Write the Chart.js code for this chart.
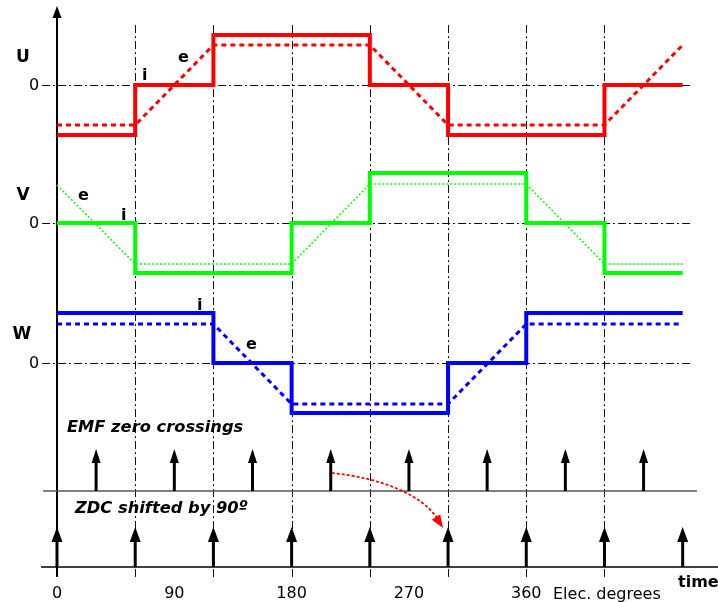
<!DOCTYPE html>
<html>
<head>
<meta charset="utf-8">
<script src="https://cdn.jsdelivr.net/npm/chart.js@4"></script>
<style>
  html, body { margin: 0; padding: 0; background: #fff; }
  #wrap { position: relative; width: 718px; height: 602px; }
</style>
</head>
<body>
<div id="wrap"><canvas id="c"></canvas></div>
<script>
// phase currents: level holds from its angle up to the next angle
const uAngles = [0, 60, 120, 240, 300, 420, 480];
const uCurrent = [-1, 0, 1, 0, -1, 0, 0];
const vAngles = [0, 60, 180, 240, 360, 420, 480];
const vCurrent = [0, -1, 0, 1, 0, -1, -1];
const wAngles = [0, 120, 180, 300, 360, 480];
const wCurrent = [1, 0, -1, 0, 1, 1];

// back EMF, trapezoid corners
const uEmfAngles = [0, 60, 120, 240, 300, 420, 480];
const uEmf = [-0.8, -0.8, 0.8, 0.8, -0.8, -0.8, 0.8];
const vEmfAngles = [0, 60, 180, 240, 360, 420, 480];
const vEmf = [0.76, -0.82, -0.82, 0.78, 0.78, -0.82, -0.82];
const wEmfAngles = [0, 120, 180, 300, 360, 480];
const wEmf = [0.78, 0.78, -0.82, -0.82, 0.78, 0.78];

// zero crossing markers (elec. degrees)
const emfZeroCrossings = [30, 90, 150, 210, 270, 330, 390, 450];
const zdcShifted = [0, 60, 120, 180, 240, 300, 360, 420, 480];
const shiftFrom = 210;
const shiftTo = 300;

const xTicks = [0, 90, 180, 270, 360];
const gridAngles = [60, 120, 180, 240, 300, 360, 420];

// vertical lanes (y units, 1 = current amplitude)
const laneU = -1.7, laneV = -4.46, laneW = -7.26;
const emfBase = -9.82, zdcBase = -11.34;

const RED = "#ff0000", GREEN = "#00ff00", BLUE = "#0000ff";
const FONT = "'DejaVu Sans', Verdana, sans-serif";

function pts(angles, vals, lane) {
  return angles.map((a, i) => ({ x: a, y: lane + vals[i] }));
}

function arrow(ctx, x, yBase, yTip, hw, hh, lw) {
  ctx.save();
  ctx.strokeStyle = "#000";
  ctx.fillStyle = "#000";
  ctx.lineWidth = lw;
  ctx.beginPath();
  ctx.moveTo(x, yBase);
  ctx.lineTo(x, yTip + hh - 1);
  ctx.stroke();
  ctx.beginPath();
  ctx.moveTo(x, yTip);
  ctx.lineTo(x - hw / 2, yTip + hh);
  ctx.lineTo(x + hw / 2, yTip + hh);
  ctx.closePath();
  ctx.fill();
  ctx.restore();
}

const decor = {
  id: "decor",
  beforeDatasetsDraw(chart) {
    const ctx = chart.ctx;
    const xs = chart.scales.x, ys = chart.scales.y;
    ctx.save();
    ctx.strokeStyle = "#111";
    ctx.lineWidth = 1;
    ctx.setLineDash([8, 3, 2, 3]);
    gridAngles.forEach(a => {
      const x = Math.round(xs.getPixelForValue(a)) + 0.5;
      ctx.beginPath();
      ctx.moveTo(x, 25);
      ctx.lineTo(x, 577);
      ctx.stroke();
    });
    [laneU, laneV, laneW].forEach(l => {
      const y = Math.round(ys.getPixelForValue(l)) + 0.5;
      ctx.beginPath();
      ctx.moveTo(42, y);
      ctx.lineTo(693, y);
      ctx.stroke();
    });
    ctx.setLineDash([]);

    // y axis with arrow
    const x0 = xs.getPixelForValue(0);
    ctx.strokeStyle = "#000";
    ctx.fillStyle = "#000";
    ctx.lineWidth = 2;
    ctx.beginPath();
    ctx.moveTo(x0, 16);
    ctx.lineTo(x0, 577);
    ctx.stroke();
    ctx.beginPath();
    ctx.moveTo(x0, 6);
    ctx.lineTo(x0 - 4.5, 18);
    ctx.lineTo(x0 + 4.5, 18);
    ctx.closePath();
    ctx.fill();

    // EMF baseline
    const yE = ys.getPixelForValue(emfBase);
    ctx.strokeStyle = "#555";
    ctx.lineWidth = 1.5;
    ctx.beginPath();
    ctx.moveTo(43, yE);
    ctx.lineTo(697, yE);
    ctx.stroke();

    // time axis
    const yZ = ys.getPixelForValue(zdcBase);
    ctx.strokeStyle = "#000";
    ctx.beginPath();
    ctx.moveTo(41, yZ);
    ctx.lineTo(718, yZ);
    ctx.stroke();
    ctx.restore();
  },
  afterDatasetsDraw(chart) {
    const ctx = chart.ctx;
    const xs = chart.scales.x, ys = chart.scales.y;
    const yE = ys.getPixelForValue(emfBase);
    const yZ = ys.getPixelForValue(zdcBase);

    emfZeroCrossings.forEach(a => {
      arrow(ctx, xs.getPixelForValue(a), yE, ys.getPixelForValue(emfBase + 0.84), 9, 14, 3);
    });
    zdcShifted.forEach(a => {
      arrow(ctx, xs.getPixelForValue(a), yZ, ys.getPixelForValue(zdcBase + 0.8), 11, 15, 3);
    });

    // red dotted shift arrow
    const sx = xs.getPixelForValue(shiftFrom) + 1, sy = ys.getPixelForValue(emfBase + 0.36);
    const ex = xs.getPixelForValue(shiftTo) - 5, ey = ys.getPixelForValue(zdcBase + 0.78);
    ctx.save();
    ctx.strokeStyle = RED;
    ctx.fillStyle = RED;
    ctx.lineWidth = 1.8;
    ctx.setLineDash([3, 2]);
    const c1x = sx + 50, c1y = sy + 5, c2x = sx + 90, c2y = sy + 22;
    const tx = ex - 6, ty = ey - 10;
    ctx.beginPath();
    ctx.moveTo(sx, sy);
    ctx.bezierCurveTo(c1x, c1y, c2x, c2y, tx, ty);
    ctx.stroke();
    ctx.setLineDash([]);
    const ang = Math.atan2(ey - c2y, ex - c2x);
    ctx.translate(ex, ey);
    ctx.rotate(ang);
    ctx.beginPath();
    ctx.moveTo(0, 0);
    ctx.lineTo(-13, -5);
    ctx.lineTo(-13, 5);
    ctx.closePath();
    ctx.fill();
    ctx.restore();

    // texts
    ctx.save();
    ctx.fillStyle = "#000";
    ctx.textAlign = "center";
    ctx.textBaseline = "alphabetic";
    ctx.font = "bold 17px " + FONT;
    ctx.fillText("U", 23, 62);
    ctx.fillText("V", 23, 200);
    ctx.fillText("W", 22, 339);
    ctx.font = "16px " + FONT;
    ctx.textBaseline = "middle";
    [laneU, laneV, laneW].forEach(l => ctx.fillText("0", 34, ys.getPixelForValue(l) + 1));
    ctx.textBaseline = "alphabetic";
    xTicks.forEach(t => ctx.fillText(String(t), xs.getPixelForValue(t), 598));
    ctx.textAlign = "left";
    ctx.fillText("Elec. degrees", 553, 599);
    ctx.font = "bold 16px " + FONT;
    ctx.fillText("time", 678, 587);
    ctx.fillText("i", 142, 80);
    ctx.fillText("e", 178, 62);
    ctx.fillText("e", 78, 200);
    ctx.fillText("i", 121, 220);
    ctx.fillText("i", 197, 310);
    ctx.fillText("e", 246, 349);
    ctx.font = "italic bold 16.3px " + FONT;
    ctx.fillText("EMF zero crossings", 67, 432);
    ctx.fillText("ZDC shifted by 90º", 75, 513);
    ctx.restore();
  }
};

const stepStyle = (color) => ({
  borderColor: color, borderWidth: 4, stepped: "before",
  pointRadius: 0, fill: false, borderJoinStyle: "miter", borderCapStyle: "butt"
});

new Chart(document.getElementById("c"), {
  type: "line",
  data: {
    datasets: [
      { data: pts(uEmfAngles, uEmf, laneU), borderColor: RED, borderWidth: 3, borderDash: [5, 4], pointRadius: 0 },
      { data: pts(vEmfAngles, vEmf, laneV), borderColor: GREEN, borderWidth: 1.5, borderDash: [2, 2], pointRadius: 0 },
      { data: pts(wEmfAngles, wEmf, laneW), borderColor: BLUE, borderWidth: 3, borderDash: [5, 4], pointRadius: 0 },
      Object.assign({ data: pts(uAngles, uCurrent, laneU) }, stepStyle(RED)),
      Object.assign({ data: pts(vAngles, vCurrent, laneV) }, stepStyle(GREEN)),
      Object.assign({ data: pts(wAngles, wCurrent, laneW) }, stepStyle(BLUE))
    ]
  },
  options: {
    responsive: true,
    maintainAspectRatio: false,
    animation: false,
    layout: { padding: 0 },
    plugins: { legend: { display: false }, tooltip: { enabled: false } },
    scales: {
      x: { type: "linear", min: -43.73, max: 507.1, display: false },
      y: { type: "linear", min: -12.04, max: 0, display: false }
    }
  },
  plugins: [decor]
});
</script>
</body>
</html>
